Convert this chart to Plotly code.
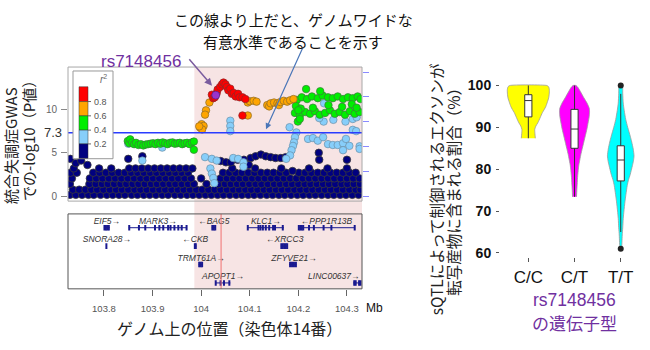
import plotly.graph_objects as go

W, H = 650, 350
def PX(px): return px / W
def PY(py): return 1 - py / H

FONT = "Liberation Sans, Arial, Noto Sans CJK JP, sans-serif"
CJK = "Noto Sans CJK JP, Liberation Sans, sans-serif"

# ---------------- Manhattan (regional association) data ----------------
X_RANGE = [103.726, 104.331]
HIGHLIGHT = [103.986, 104.331]
LEAD_POS = 104.041
THRESHOLD = 7.3

NAVY_ROW_Y = [0.15, 0.75, 1.4, 2.05, 2.7, 3.2]
NAVY_ROWS = [
    [103.730, 103.742, 103.755, 103.768, 103.779, 103.793, 103.806, 103.818, 103.831, 103.843, 103.857, 103.869,
     103.882, 103.894, 103.907, 103.920, 103.932, 103.946, 103.958, 103.971, 103.983, 103.996, 104.009, 104.021,
     104.034, 104.046, 104.059, 104.072, 104.084, 104.097, 104.109, 104.122, 104.135, 104.147, 104.160, 104.172,
     104.185, 104.198, 104.210, 104.223, 104.235, 104.248, 104.261, 104.273, 104.286, 104.298, 104.311, 104.324],
    [103.736, 103.749, 103.762, 103.774, 103.786, 103.799, 103.812, 103.825, 103.837, 103.850, 103.863, 103.875,
     103.888, 103.901, 103.914, 103.926, 103.939, 103.952, 103.964, 103.977, 103.990, 104.002, 104.015, 104.028,
     104.040, 104.053, 104.066, 104.078, 104.091, 104.103, 104.116, 104.129, 104.141, 104.154, 104.166, 104.179,
     104.192, 104.204, 104.217, 104.229, 104.242, 104.255, 104.267, 104.280, 104.292, 104.305, 104.318, 104.328],
    [103.730, 103.770, 103.783, 103.796, 103.808, 103.821, 103.834, 103.846, 103.859, 103.871, 103.884, 103.897,
     103.909, 103.922, 103.935, 103.947, 103.960, 103.973, 103.985, 104.011, 104.036, 104.049, 104.061, 104.074,
     104.086, 104.099, 104.112, 104.124, 104.137, 104.150, 104.162, 104.175, 104.187, 104.200, 104.213, 104.225,
     104.238, 104.251, 104.263, 104.276, 104.289, 104.301, 104.314, 104.327],
    [103.734, 103.771, 103.784, 103.797, 103.810, 103.823, 103.836, 103.849, 103.862, 103.875, 103.888, 103.901,
     103.914, 103.927, 103.940, 103.953, 103.966, 103.979, 104.000, 104.040, 104.053, 104.066, 104.079, 104.092,
     104.105, 104.118, 104.131, 104.144, 104.157, 104.170, 104.183, 104.196, 104.209, 104.222, 104.235, 104.248,
     104.261, 104.274, 104.287, 104.300, 104.313, 104.326],
    [103.731, 103.744, 103.778, 103.791, 103.804, 103.817, 103.830, 103.843, 103.856, 103.869, 103.882, 103.895,
     103.908, 103.921, 103.934, 103.947, 103.960, 103.973, 104.045, 104.058, 104.071, 104.084, 104.097, 104.110,
     104.123, 104.136, 104.149, 104.162, 104.175, 104.201, 104.214, 104.227, 104.240, 104.253, 104.266, 104.279,
     104.292, 104.305, 104.318],
    [103.738, 103.790, 103.815, 103.852, 103.865, 103.878, 103.891, 103.904, 103.917, 103.930, 103.943, 103.956,
     103.969, 103.982, 104.064, 104.111, 104.165, 104.222, 104.260, 104.300],
]
NAVY_EXTRA = [(103.731, 4.3), (103.742, 3.8), (103.753, 4.1), (103.766, 3.6), (103.850, 4.3), (103.879, 4.6),
              (104.040, 4.05), (104.051, 3.9), (104.061, 3.9), (104.075, 4.2), (104.088, 4.2), (104.102, 4.4),
              (104.112, 4.6), (104.123, 4.8), (104.133, 4.6), (104.143, 4.5), (104.153, 4.4), (104.164, 4.4),
              (104.174, 4.5), (104.242, 5.0), (104.243, 4.2), (104.300, 4.2), (104.188, 2.9), (104.098, 3.6)]
LBLUE = [(103.850, 6.05), (103.920, 5.6), (103.879, 4.1), (104.008, 4.5), (104.022, 4.3), (104.032, 4.1),
         (104.066, 4.4), (104.076, 4.3), (104.087, 3.9), (104.087, 3.4), (104.019, 3.2), (104.022, 2.6),
         (104.025, 2.1), (104.027, 1.5), (104.060, 8.7), (104.060, 8.1), (104.060, 7.5), (104.182, 7.95),
         (104.196, 7.35), (104.193, 6.8), (104.191, 6.2), (104.189, 5.8), (104.186, 5.3), (104.183, 4.7),
         (104.175, 4.3), (104.220, 6.6), (104.230, 6.7), (104.240, 6.4), (104.251, 6.8), (104.261, 6.0),
         (104.271, 5.9), (104.281, 5.9), (104.292, 6.1), (104.298, 6.6), (104.305, 5.8), (104.312, 7.65),
         (104.319, 7.5), (104.326, 5.75), (104.292, 5.3), (104.326, 5.45), (104.253, 10.7), (104.252, 8.6),
         (104.297, 8.6), (104.243, 9.0), (104.272, 8.8), (104.312, 8.9), (104.320, 9.1)]
GREEN = [(103.849, 6.35), (103.852, 6.1), (103.854, 6.55), (103.858, 6.2), (103.862, 6.0), (103.866, 6.15),
         (103.871, 5.9), (103.876, 6.0), (103.881, 5.85), (103.886, 5.95), (103.891, 6.0), (103.896, 6.05),
         (103.901, 6.1), (103.906, 6.0), (103.911, 6.15), (103.916, 6.05), (103.921, 6.2), (103.926, 6.1),
         (103.931, 6.0), (103.936, 6.15), (103.941, 6.2), (103.946, 6.05), (103.951, 6.1), (103.956, 6.15),
         (103.961, 6.0), (103.966, 6.1), (103.971, 6.15), (103.976, 6.0), (103.981, 6.2), (103.985, 6.3),
         (103.985, 5.35),
         (104.197, 11.1), (104.207, 11.4), (104.218, 11.2), (104.228, 11.5), (104.240, 11.3), (104.250, 11.6),
         (104.261, 11.4), (104.271, 11.3), (104.281, 11.5), (104.292, 11.2), (104.302, 11.4), (104.312, 11.3),
         (104.322, 11.5), (104.328, 11.2),
         (104.193, 9.6), (104.203, 9.3), (104.214, 9.7), (104.224, 9.5), (104.234, 9.8), (104.244, 9.4),
         (104.255, 9.6), (104.265, 9.9), (104.275, 9.5), (104.285, 9.7), (104.296, 9.4), (104.306, 9.8),
         (104.316, 9.5), (104.326, 9.7),
         (104.195, 10.4), (104.205, 10.1), (104.262, 10.5), (104.290, 10.3), (104.310, 10.6), (104.200, 9.9),
         (104.230, 10.2), (104.320, 10.2), (104.216, 12.35), (104.245, 12.1), (104.199, 8.6), (104.203, 8.9)]
ORANGE = [(104.017, 10.8), (104.010, 9.9), (104.008, 9.4), (104.001, 8.3), (103.998, 7.9), (104.005, 8.1),
          (104.002, 7.7), (103.996, 8.05), (104.096, 9.3), (104.096, 10.8), (104.100, 10.95), (104.108, 11.0),
          (104.114, 10.9), (104.136, 10.5), (104.140, 10.35), (104.143, 10.7), (104.150, 10.8), (104.157, 10.7),
          (104.160, 10.5), (104.163, 10.85), (104.170, 11.0), (104.177, 10.9), (104.183, 11.05), (104.190, 11.2)]
RED = [(104.022, 11.7), (104.025, 11.3), (104.028, 11.4), (104.032, 11.9), (104.034, 12.3), (104.039, 12.6),
       (104.043, 12.9), (104.046, 13.1), (104.050, 12.9), (104.053, 12.6), (104.056, 12.2), (104.060, 12.4),
       (104.063, 11.8), (104.067, 11.9), (104.071, 11.5), (104.076, 11.8), (104.079, 11.4), (104.085, 11.4),
       (104.091, 11.2), (104.085, 9.3)]
LEAD = [(104.030, 11.65)]

R2_LABELS = ["0.8", "0.6", "0.4", "0.2"]
R2_COLORS = ["#ff0000", "#ffa500", "#00ee00", "#87cefa", "#000080"]

# ---------------- Genes ----------------
GENE_LABEL = ["EIF5→", "MARK3→", "←BAG5", "KLC1→", "←PPP1R13B", "SNORA28→", "←CKB", "←XRCC3",
              "TRMT61A→", "ZFYVE21→", "APOPT1→", "LINC00637→"]
GENE_ROW = [1, 1, 1, 1, 1, 2, 2, 2, 3, 3, 4, 4]
GENE_START = [103.800, 103.851, 104.022, 104.095, 104.200, 103.805, 103.986, 104.164, 103.995, 104.181, 104.029, 104.313]
GENE_END = [103.812, 103.971, 104.030, 104.170, 104.316, 103.8055, 103.990, 104.178, 104.003, 104.196, 104.060, 104.328]
GENE_LABEL_X = [103.806, 103.911, 104.026, 104.133, 104.258, 103.806, 103.988, 104.172, 104.000, 104.191, 104.045, 104.273]
GENE_EXONS = [
    [103.801, 103.804, 103.807, 103.810],
    [103.852, 103.872, 103.885, 103.905, 103.914, 103.922, 103.932, 103.937, 103.945, 103.953, 103.960, 103.970],
    [104.023, 104.026, 104.029],
    [104.096, 104.118, 104.122, 104.127, 104.133, 104.140, 104.148, 104.152, 104.168],
    [104.201, 104.204, 104.207, 104.210, 104.222, 104.232, 104.252, 104.268, 104.316],
    [103.805],
    [103.987, 103.989],
    [104.165, 104.168, 104.171, 104.174, 104.177],
    [103.996, 103.999, 104.002],
    [104.183, 104.187, 104.191, 104.195],
    [104.030, 104.040, 104.047, 104.058],
    [104.315, 104.318, 104.325, 104.328],
]
X_TICKS = [103.8, 103.9, 104.0, 104.1, 104.2, 104.3]
X_TICKTEXT = ["103.8", "103.9", "104", "104.1", "104.2", "104.3"]

# ---------------- Violin data ----------------
GENOTYPES = ["C/C", "C/T", "T/T"]
VIOLIN_COLORS = ["#ffff00", "#ff00ff", "#00ffff"]
VIOLIN_V = [
    [87.4, 88.5, 89.5, 90.3, 91.1, 92.3, 93.5, 94.3, 95.0, 96.0, 97.0, 98.0, 99.0, 99.7, 100.0],
    [73.4, 75.0, 76.1, 77.5, 78.5, 80.0, 81.0, 82.5, 83.5, 85.0, 86.5, 88.0, 89.5, 91.0, 92.5, 93.5, 94.5,
     95.8, 97.0, 98.5, 99.5, 100.0],
    [61.0, 62.5, 64.3, 66.0, 68.2, 70.0, 72.2, 74.0, 76.1, 77.5, 78.5, 80.0, 80.9, 82.0, 83.2, 84.8, 86.5,
     87.9, 90.0, 91.9, 94.0, 95.8, 98.0, 100.0],
]
VIOLIN_HALFWIDTH = [  # in pixels of the original picture (46.2 px per category)
    [7.0, 6.6, 6.4, 7.5, 9.5, 11.8, 14.0, 16.0, 17.5, 19.0, 20.3, 20.9, 21.0, 20.3, 18.5],
    [2.0, 2.3, 2.6, 2.9, 3.2, 3.8, 4.3, 5.5, 6.3, 7.8, 9.3, 10.8, 12.3, 13.5, 14.6, 15.0, 14.8, 12.5, 9.5,
     6.0, 3.5, 1.5],
    [1.0, 1.2, 1.5, 2.0, 2.5, 3.2, 4.2, 5.2, 6.5, 7.8, 9.2, 10.8, 11.7, 12.7, 13.3, 12.5, 11.0, 9.5, 7.0,
     5.0, 3.5, 2.5, 2.0, 1.5],
]
HW_SCALE = 1 / 46.2
BOX_Q1 = [92.5, 85.0, 77.2]
BOX_MED = [96.4, 89.6, 82.2]
BOX_Q3 = [97.8, 94.3, 85.6]
BOX_LO = [87.4, 73.4, 65.0]
BOX_HI = [100.0, 100.0, 98.0]
OUTLIER_X = [2, 2]
OUTLIER_Y = [100.0, 61.0]

GENE_COLOR = "#1a1a90"

fig = go.Figure()

# ---- Manhattan traces ----
nx, ny = [], []
for yv, row in zip(NAVY_ROW_Y, NAVY_ROWS):
    nx += row
    ny += [yv] * len(row)
nx += [p[0] for p in NAVY_EXTRA]
ny += [p[1] for p in NAVY_EXTRA]

def pts(data, color, size=7.5, lc="#4a4a4a"):
    return go.Scatter(x=[p[0] for p in data], y=[p[1] for p in data], mode="markers",
                      marker=dict(color=color, size=size, line=dict(color=lc, width=0.7)),
                      xaxis="x", yaxis="y", hoverinfo="skip", showlegend=False)

fig.add_trace(go.Scatter(x=nx, y=ny, mode="markers",
                         marker=dict(color="#000080", size=7.5, line=dict(color="#3a3a3a", width=0.8)),
                         xaxis="x", yaxis="y", hoverinfo="skip", showlegend=False))
fig.add_trace(pts(LBLUE, "#87cefa", lc="#6a8fa8"))
fig.add_trace(pts(GREEN, "#00ee00", lc="#3c7a3c"))
fig.add_trace(pts(ORANGE, "#ffa500", lc="#8a6a2a"))
fig.add_trace(pts(RED, "#ff0000", lc="#8a2a2a"))
fig.add_trace(pts(LEAD, "#9933cc", size=8, lc="#552277"))
fig.add_trace(go.Scatter(x=[None], y=[None], xaxis="x", yaxis="y3", showlegend=False, hoverinfo="skip"))

# ---- Genes ----
for i in range(len(GENE_LABEL)):
    r = GENE_ROW[i]
    fig.add_trace(go.Scatter(x=[GENE_START[i], GENE_END[i]], y=[r, r], mode="lines",
                             line=dict(color=GENE_COLOR, width=1), xaxis="x2", yaxis="y2",
                             hoverinfo="skip", showlegend=False))
    fig.add_trace(go.Scatter(x=GENE_EXONS[i], y=[r] * len(GENE_EXONS[i]), mode="markers",
                             marker=dict(symbol="line-ns-open", size=4, color=GENE_COLOR,
                                         line=dict(color=GENE_COLOR, width=2)),
                             xaxis="x2", yaxis="y2", hoverinfo="skip", showlegend=False))
fig.add_trace(go.Scatter(x=GENE_LABEL_X, y=[r - 0.33 for r in GENE_ROW], mode="text",
                         text=["<i>%s</i>" % t for t in GENE_LABEL], textposition="middle center",
                         textfont=dict(family=FONT, size=8.5, color="#333333"),
                         xaxis="x2", yaxis="y2", hoverinfo="skip", showlegend=False))

# ---- Violins ----
for i in range(3):
    v = VIOLIN_V[i]
    hw = VIOLIN_HALFWIDTH[i]
    xs = [i + w * HW_SCALE for w in hw] + [i - w * HW_SCALE for w in hw[::-1]]
    ys = v + v[::-1]
    fig.add_trace(go.Scatter(x=xs, y=ys, mode="lines", fill="toself", fillcolor=VIOLIN_COLORS[i],
                             line=dict(color="#9a9a9a", width=0.8, shape="spline", smoothing=0.6),
                             xaxis="x3", yaxis="y4", hoverinfo="skip", showlegend=False, zorder=0))
fig.add_trace(go.Box(x=[0, 1, 2], q1=BOX_Q1, median=BOX_MED, q3=BOX_Q3, lowerfence=BOX_LO, upperfence=BOX_HI,
                     width=0.155, whiskerwidth=0, fillcolor="white", line=dict(color="#333333", width=1),
                     boxpoints=False, xaxis="x3", yaxis="y4", hoverinfo="skip", showlegend=False, zorder=2))
fig.add_trace(go.Scatter(x=OUTLIER_X, y=OUTLIER_Y, mode="markers", marker=dict(color="#222222", size=6),
                         xaxis="x3", yaxis="y4", hoverinfo="skip", showlegend=False, zorder=3))

# ---- Shapes ----
shapes = [
    dict(type="rect", xref="x", yref="paper", x0=HIGHLIGHT[0], x1=HIGHLIGHT[1], y0=PY(292), y1=PY(67),
         fillcolor="#f7e4e4", line=dict(width=0), layer="below"),
    dict(type="line", xref="x domain", yref="y", x0=0, x1=1, y0=THRESHOLD, y1=THRESHOLD,
         line=dict(color="#2a3cff", width=1.5), layer="above"),
    dict(type="line", xref="x2", yref="y2 domain", x0=LEAD_POS, x1=LEAD_POS, y0=0, y1=1,
         line=dict(color="#f07070", width=1), layer="above"),
    # panel frames
    dict(type="rect", xref="x domain", yref="y domain", x0=0, x1=1, y0=0, y1=1,
         line=dict(color="#a8a8a8", width=1), layer="above"),
    dict(type="rect", xref="x2 domain", yref="y2 domain", x0=0, x1=1, y0=0, y1=1,
         line=dict(color="#555555", width=1), layer="above"),
    # r2 legend box
    dict(type="rect", xref="paper", yref="paper", x0=PX(73), x1=PX(113), y0=PY(160), y1=PY(71),
         fillcolor="white", line=dict(color="#999999", width=1), layer="above"),
]
seg = [87, 102, 116.5, 131, 145, 159.5]
for k, c in enumerate(R2_COLORS):
    shapes.append(dict(type="rect", xref="paper", yref="paper", x0=PX(79), x1=PX(88),
                       y0=PY(seg[k + 1]), y1=PY(seg[k]), fillcolor=c,
                       line=dict(color="#333333", width=0.5), layer="above"))
for k in range(4):
    shapes.append(dict(type="line", xref="paper", yref="paper", x0=PX(88), x1=PX(91),
                       y0=PY(seg[k + 1]), y1=PY(seg[k + 1]), line=dict(color="#666666", width=1),
                       layer="above"))

def note(text, x, y, size, color="#222222", family=CJK, angle=0, xa="center", ya="middle", xref="paper", yref="paper"):
    return dict(text=text, x=x, y=y, xref=xref, yref=yref, xanchor=xa, yanchor=ya, textangle=angle,
                showarrow=False, font=dict(family=family, size=size, color=color))

ann = []
for k, t in enumerate(R2_LABELS):
    ann.append(note(t, PX(92), PY(seg[k + 1]), 9, "#555555", FONT, xa="left"))
ann += [
    note("<i>r</i><sup>2</sup>", PX(103), PY(79), 10, "#666666", FONT),
    note("7.3", PX(64), THRESHOLD, 13, "#333333", FONT, xa="right", yref="y"),
    note("Mb", PX(364), PY(311), 12, "#111111", FONT, xa="left"),
    note("ゲノム上の位置（染色体14番）", PX(229), PY(332), 16),
    note("統合失調症GWAS", PX(11), PY(147), 15, angle=-90),
    note("での-log10（P値）", PX(28), PY(138), 15, angle=-90),
    note("この線より上だと、ゲノムワイドな", PX(293), PY(19), 15, "#111111"),
    note("有意水準であることを示す", PX(293), PY(41), 15, "#111111"),
    note("rs7148456", PX(141), PY(61), 17, "#7030a0", FONT),
    dict(text="", x=PX(212), y=PY(86), xref="paper", yref="paper", showarrow=True, ax=-24, ay=-28,
         arrowcolor="#7a5c9e", arrowwidth=1.5, arrowhead=2, arrowsize=1),
    dict(text="", x=PX(266), y=PY(130), xref="paper", yref="paper", showarrow=True, ax=37, ay=-82,
         arrowcolor="#4a76b8", arrowwidth=1.2, arrowhead=2, arrowsize=1),
    note("rs7148456", PX(574), PY(303), 17.5, "#7030a0", FONT),
    note("の遺伝子型", PX(574), PY(326), 17, "#7030a0"),
    note("sQTLによって制御されるエクソンが", PX(436), PY(191), 15.5, angle=-90),
    note("転写産物に含まれる割合（%）", PX(453.5), PY(190), 15.5, angle=-90),
]

fig.update_layout(
    width=W, height=H, margin=dict(l=0, r=0, t=0, b=0),
    paper_bgcolor="white", plot_bgcolor="rgba(0,0,0,0)",
    font=dict(family=FONT), showlegend=False, shapes=shapes, annotations=ann,
    xaxis=dict(domain=[PX(68), PX(362)], range=X_RANGE, anchor="y", showticklabels=False, ticks="",
               showgrid=False, zeroline=False, showline=True, mirror=True, linecolor="#aaaaaa", linewidth=1),
    yaxis=dict(domain=[PY(203), PY(67)], range=[-0.57, 14.89], anchor="x", tickvals=[0, 5, 10],
               ticks="outside", ticklen=6, tickcolor="#888888", tickfont=dict(size=10, color="#666666"),
               ticklabelstandoff=2, showgrid=False, zeroline=False, showline=True, linecolor="#aaaaaa"),
    yaxis3=dict(overlaying="y", side="right", anchor="x", range=[-3.97, 104],
                tickvals=[0, 20, 40, 60, 80, 100], ticks="outside", ticklen=6, tickcolor="#8a8aff",
                showticklabels=False, showgrid=False, zeroline=False, showline=False),
    xaxis2=dict(domain=[PX(68), PX(362)], range=X_RANGE, anchor="y2", tickvals=X_TICKS, ticktext=X_TICKTEXT,
                ticks="outside", ticklen=6, tickcolor="#666666", tickfont=dict(size=9.5, color="#555555"),
                ticklabelstandoff=5, showgrid=False, zeroline=False, showline=True, mirror=True,
                linecolor="#555555"),
    yaxis2=dict(domain=[PY(292), PY(216)], range=[4.32, 0.25], anchor="x2", showticklabels=False, ticks="",
                showgrid=False, zeroline=False, showline=True, mirror=True, linecolor="#555555"),
    xaxis3=dict(domain=[PX(500), PX(648)], range=[-0.613, 2.59], anchor="y4", tickvals=[0, 1, 2],
                ticktext=GENOTYPES, ticks="outside", ticklen=4, tickcolor="#555555",
                tickfont=dict(size=17, color="#111111"), ticklabelstandoff=1, showgrid=False,
                zeroline=False, showline=True, linecolor="#555555"),
    yaxis4=dict(domain=[PY(259.3), PY(78.3)], range=[59.12, 101.75], anchor="x3",
                tickvals=[60, 70, 80, 90, 100], ticks="outside", ticklen=3, tickcolor="#555555",
                tickfont=dict(size=14, color="#111111", weight="bold"), ticklabelstandoff=2,
                showgrid=False, zeroline=False, showline=True, linecolor="#555555"),
)

fig.write_html("out.html")
